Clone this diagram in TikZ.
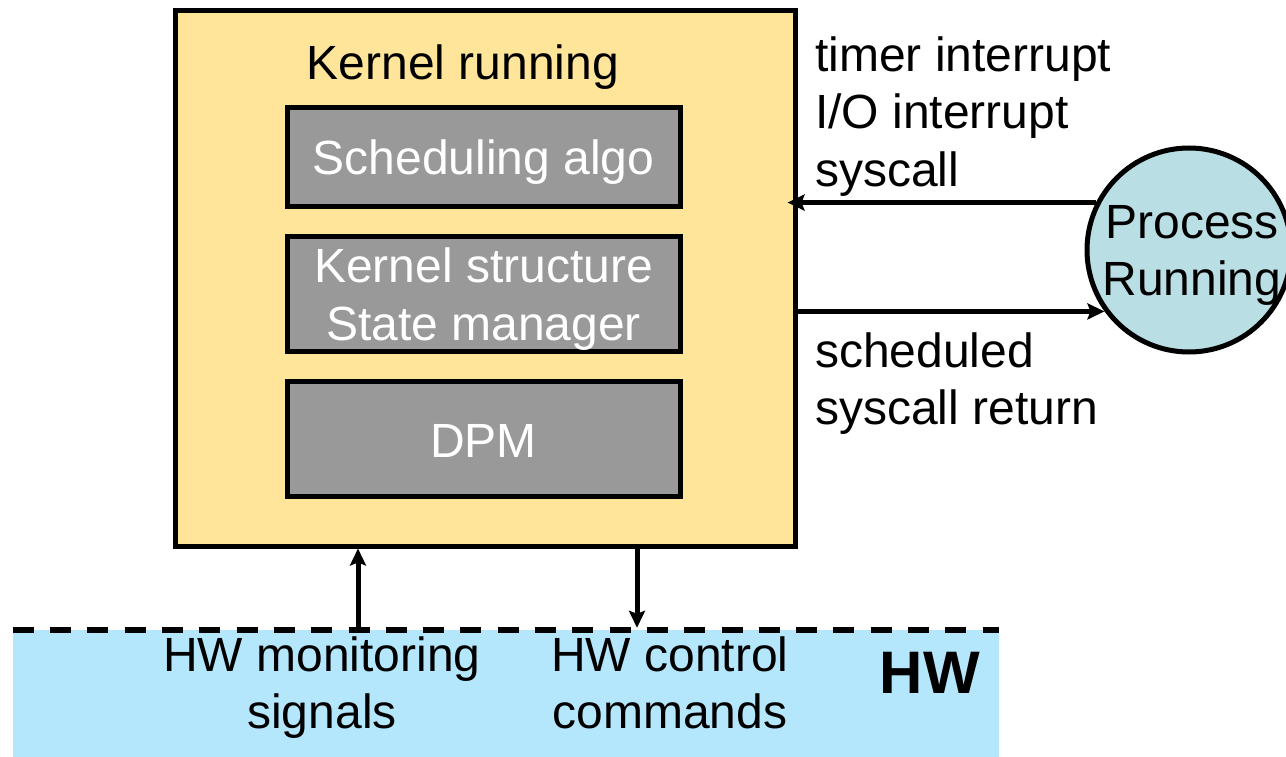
\documentclass[tikz,border=0pt]{standalone}
\usepackage{fontspec}
\setmainfont{Liberation Sans}
\usetikzlibrary{arrows.meta}

\definecolor{kernelfill}{RGB}{255,229,153}
\definecolor{blockfill}{RGB}{153,153,153}
\definecolor{procfill}{RGB}{185,223,228}
\definecolor{hwfill}{RGB}{180,230,252}

\tikzset{
  txt/.style={font=\fontsize{48}{57}\selectfont, inner sep=0pt},
  kernelbox/.style={draw=black, line width=5pt, fill=kernelfill,
    minimum width=620pt, minimum height=535pt, inner sep=0pt},
  block/.style={draw=black, line width=5pt, fill=blockfill,
    minimum width=393pt, inner sep=0pt},
  blocktext/.style={txt, text=white, anchor=base},
  procnode/.style={circle, draw=black, line width=5pt, fill=procfill,
    minimum size=204pt, inner sep=0pt},
  arr/.style={line width=5pt, -{Stealth[length=17pt,width=16pt,inset=3pt]}},
  hwline/.style={line width=5.5pt, dash pattern=on 21pt off 16.3pt},
}

\begin{document}
\begin{tikzpicture}[x=1pt,y=-1pt]
\useasboundingbox (0,0) rectangle (1286,757);

% hardware band
\node[fill=hwfill, minimum width=986pt, minimum height=127pt, inner sep=0pt]
  (hw) at (506,693.5) {};
\draw[hwline] (hw.north west) -- (hw.north east);

% kernel and its components
\node[kernelbox] (kernel) at (485,278.5) {};
\node[txt, anchor=base] (ktitle) at (463,80) {Kernel running};
\node[block, minimum height=99pt] (sched) at (483.5,157.5) {};
\node[block, minimum height=115pt] (kstruct) at (483.5,293.5) {};
\node[block, minimum height=115pt] (dpm) at (483.5,439) {};
\node[blocktext] (schedtext) at (483.5,175) {Scheduling algo};
\node[blocktext] (kstructtext1) at (483.5,282) {Kernel structure};
\node[blocktext] (kstructtext2) at (483.5,340) {State manager};
\node[blocktext] (dpmtext) at (483.5,457) {DPM};

% running process
\node[procnode] (proc) at (1189,250) {};
\node[txt, anchor=base] (proctext1) at (1192,238) {Process};
\node[txt, anchor=base] (proctext2) at (1192,295) {Running};

% transitions between process and kernel
\draw[arr] (proc.153) -- ([xshift=-10pt]proc.153 -| kernel.east);
\draw[arr] (proc.216 -| kernel.east) -- (proc.216);

\node[txt, anchor=base west] (l1) at (815,72) {timer interrupt};
\node[txt, anchor=base west] (l2) at (815,129) {I/O interrupt};
\node[txt, anchor=base west] (l3) at (815,186) {syscall};
\node[txt, anchor=base west] (l4) at (815,367) {scheduled};
\node[txt, anchor=base west] (l5) at (815,424) {syscall return};

% hardware interface
\coordinate (mon) at (358,0);
\coordinate (ctl) at (637,0);
\draw[arr] (mon |- hw.north) -- (mon |- kernel.south);
\draw[arr] (ctl |- kernel.south) -- ([yshift=2pt]ctl |- hw.north);

\node[txt, anchor=base] (m1) at (322,671) {HW monitoring};
\node[txt, anchor=base] (m2) at (322,728) {signals};
\node[txt, anchor=base] (c1) at (670,671) {HW control};
\node[txt, anchor=base] (c2) at (670,728) {commands};
\node[inner sep=0pt, anchor=base east, font=\fontsize{60}{72}\selectfont\bfseries]
  (hwlabel) at (980,693) {HW};
\end{tikzpicture}
\end{document}
